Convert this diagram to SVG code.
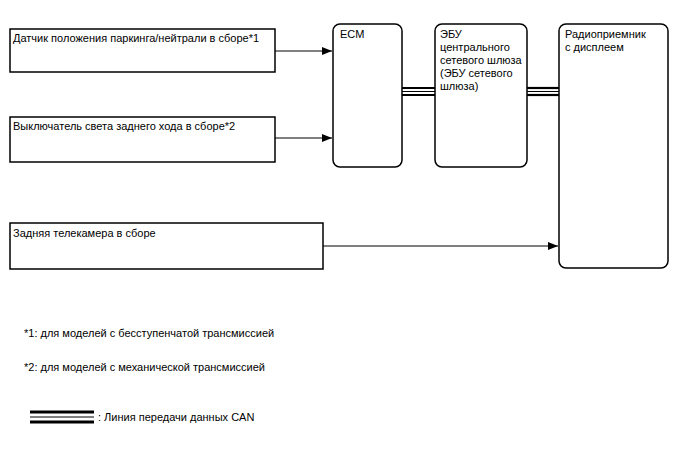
<svg xmlns="http://www.w3.org/2000/svg" width="688" height="463" viewBox="0 0 688 463">
<style>
text{font-family:"Liberation Sans",Arial,sans-serif;font-size:11px;fill:#000}
.box{fill:#fff;stroke:#000;stroke-width:1.5}
.ln{stroke:#000;stroke-width:1;fill:none}
.can{stroke:#000;stroke-width:2.2;fill:none}
.canm{stroke:#000;stroke-width:1;fill:none}
</style>
<defs>
<marker id="ah" markerWidth="10" markerHeight="8" refX="10" refY="4" orient="auto" markerUnits="userSpaceOnUse">
<path d="M0,0 L10,4 L0,8 Z" fill="#000"/>
</marker>
</defs>
<rect width="688" height="463" fill="#fff"/>
<g id="connectors">
<line class="ln" x1="275" y1="51" x2="332" y2="51" marker-end="url(#ah)"/>
<line class="ln" x1="275" y1="138" x2="332" y2="138" marker-end="url(#ah)"/>
<line class="ln" x1="323" y1="246" x2="558" y2="246" marker-end="url(#ah)"/>
<g>
<line class="can" x1="402" y1="88" x2="435" y2="88"/>
<line class="canm" x1="402" y1="91.5" x2="435" y2="91.5"/>
<line class="can" x1="402" y1="95" x2="435" y2="95"/>
<line class="can" x1="527" y1="88" x2="559" y2="88"/>
<line class="canm" x1="527" y1="91.5" x2="559" y2="91.5"/>
<line class="can" x1="527" y1="95" x2="559" y2="95"/>
</g>
</g>
<g id="sensor">
<rect class="box" x="10" y="29" width="265" height="43"/>
<text x="13" y="42">Датчик положения паркинга/нейтрали в сборе*1</text>
</g>
<g id="switch">
<rect class="box" x="10" y="117" width="265" height="45"/>
<text x="13" y="130">Выключатель света заднего хода в сборе*2</text>
</g>
<g id="camera">
<rect class="box" x="10" y="223" width="313" height="46"/>
<text x="13" y="237">Задняя телекамера в сборе</text>
</g>
<g id="ecm">
<rect class="box" x="333" y="24" width="69" height="143" rx="7"/>
<text x="340" y="38">ECM</text>
</g>
<g id="gateway">
<rect class="box" x="435" y="24" width="92" height="143" rx="7"/>
<text x="440" y="38">ЭБУ</text>
<text x="440" y="51">центрального</text>
<text x="440" y="64">сетевого шлюза</text>
<text x="440" y="77">(ЭБУ сетевого</text>
<text x="440" y="90">шлюза)</text>
</g>
<g id="radio">
<rect class="box" x="559" y="24" width="109" height="244" rx="7"/>
<text x="565" y="38">Радиоприемник</text>
<text x="565" y="51">с дисплеем</text>
</g>
<g id="notes">
<text x="24" y="337">*1: для моделей с бесступенчатой трансмиссией</text>
<text x="24" y="371">*2: для моделей с механической трансмиссией</text>
<line stroke="#000" stroke-width="3" x1="30" y1="412" x2="94" y2="412"/>
<line stroke="#000" stroke-width="1" x1="30" y1="417" x2="94" y2="417"/>
<line stroke="#000" stroke-width="3" x1="30" y1="422" x2="94" y2="422"/>
<text x="98" y="421">: Линия передачи данных CAN</text>
</g>
</svg>
